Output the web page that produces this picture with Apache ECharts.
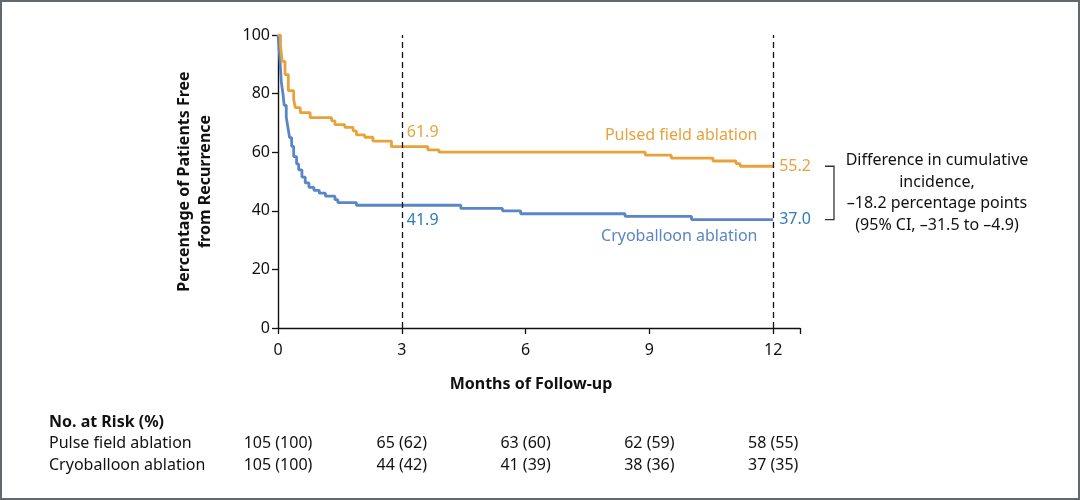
<!DOCTYPE html>
<html>
<head>
<meta charset="utf-8">
<script src="https://cdn.jsdelivr.net/npm/echarts@6/dist/echarts.min.js"></script>
<style>
  html, body { margin: 0; padding: 0; background: #fff; }
  #chart { width: 1080px; height: 500px; box-sizing: border-box; border: 2px solid #62686b; }
</style>
</head>
<body>
<div id="chart"></div>
<script>
  // 生存曲线数据 [月, %]
  var pulsedCurve = [
    [0, 100], [0.06, 96.5], [0.1, 91], [0.17, 86.5], [0.25, 81], [0.38, 78],
    [0.42, 75.2], [0.54, 73.5], [0.78, 71.8], [1.3, 70.7], [1.38, 69.4],
    [1.62, 68.5], [1.82, 67.3], [1.9, 65.9], [2.1, 65.1], [2.3, 63.8],
    [2.75, 61.9], [3.63, 60.8], [3.9, 60.0], [8.9, 59.0], [9.53, 58.0],
    [10.54, 57.0], [11.1, 56.1], [11.2, 55.2], [12, 55.2]
  ];
  var cryoCurve = [
    [0, 100], [0.02, 96.5], [0.05, 91], [0.08, 84], [0.12, 80], [0.15, 76],
    [0.2, 72], [0.24, 68.5], [0.28, 65], [0.33, 62], [0.38, 58.5], [0.45, 56],
    [0.5, 54], [0.58, 51.5], [0.66, 49.5], [0.75, 48], [0.87, 47], [1.0, 46],
    [1.15, 45], [1.38, 43.8], [1.45, 42.8], [1.9, 41.9], [4.43, 40.8],
    [5.44, 40.0], [5.88, 39.0], [8.41, 38.1], [10.02, 37.0], [12, 37.0]
  ];

  var landmarkMonths = [3, 12];
  var pulsedLandmarks = [61.9, 55.2];
  var cryoLandmarks = [41.9, 37.0];

  var riskMonths = [0, 3, 6, 9, 12];
  var riskPulsed = ['105 (100)', '65 (62)', '63 (60)', '62 (59)', '58 (55)'];
  var riskCryo = ['105 (100)', '44 (42)', '41 (39)', '38 (36)', '37 (35)'];
  var riskRowNames = ['Pulse field ablation', 'Cryoballoon ablation'];

  var diffLines = [
    'Difference in cumulative',
    'incidence,',
    '\u201318.2 percentage points',
    '(95% CI, \u201331.5 to \u20134.9)'
  ];

  var FONT = '"Noto Sans", "Open Sans", sans-serif';
  var FS = 16;
  var ORANGE = '#e9a23b';
  var BLUE = '#5a86c5';
  var BLUE_TXT = '#2d7bbb';

  var chart = echarts.init(document.getElementById('chart'), null, { renderer: 'canvas' });

  function lmLabel(val, color, offset) {
    return {
      show: true, formatter: val.toFixed(1), color: color, fontSize: FS,
      fontFamily: FONT, position: 'right', offset: offset
    };
  }

  var option = {
    animation: false,
    textStyle: { fontFamily: FONT },
    grid: { left: 276, right: 278, top: 33, bottom: 170, containLabel: false },
    xAxis: {
      type: 'value', min: 0, max: 12.65, interval: 3,
      name: 'Months of Follow-up', nameLocation: 'middle', nameGap: 48,
      nameTextStyle: { fontSize: FS, fontWeight: 'bold', color: '#111', fontFamily: FONT, padding: [0, 16, 0, 0] },
      axisLine: { lineStyle: { color: '#111', width: 1.4 } },
      axisTick: { show: true, length: 6, inside: false, lineStyle: { color: '#111', width: 1.3 } },
      axisLabel: {
        color: '#111', fontSize: FS, margin: 14, fontFamily: FONT,
        formatter: function(v) { return v % 3 === 0 ? String(v) : ''; }
      },
      splitLine: { show: false }
    },
    yAxis: {
      type: 'value', min: 0, max: 100, interval: 20,
      name: 'Percentage of Patients Free\nfrom Recurrence', nameLocation: 'middle', nameGap: 62,
      nameTextStyle: { fontSize: FS, fontWeight: 'bold', color: '#111', fontFamily: FONT, lineHeight: 21 },
      axisLine: { show: true, lineStyle: { color: '#111', width: 1.4 } },
      axisTick: { show: true, length: 6, lineStyle: { color: '#111', width: 1.3 } },
      axisLabel: { color: '#111', fontSize: FS, margin: 8, fontFamily: FONT },
      splitLine: { show: false }
    },
    series: [
      {
        name: 'Pulsed field ablation', type: 'line', step: 'end', data: pulsedCurve,
        showSymbol: false, symbol: 'none', z: 3,
        lineStyle: { color: ORANGE, width: 2.8 },
        markLine: {
          silent: true, symbol: 'none', animation: false,
          lineStyle: { color: '#111', type: [6, 4], width: 1.3 },
          label: { show: false },
          data: landmarkMonths.map(function(m) { return { xAxis: m }; })
        },
        markPoint: {
          symbol: 'circle', symbolSize: 0, silent: true,
          data: [
            { coord: [landmarkMonths[0], pulsedLandmarks[0]], label: lmLabel(pulsedLandmarks[0], ORANGE, [0, -14]) },
            { coord: [landmarkMonths[1], pulsedLandmarks[1]], label: lmLabel(pulsedLandmarks[1], ORANGE, [1, 0]) },
            { coord: [11.74, 65.7], label: { show: true, formatter: 'Pulsed field ablation', position: 'left',
              color: ORANGE, fontSize: FS, fontFamily: FONT } }
          ]
        }
      },
      {
        name: 'Cryoballoon ablation', type: 'line', step: 'end', data: cryoCurve,
        showSymbol: false, symbol: 'none', z: 2,
        lineStyle: { color: BLUE, width: 2.8 },
        markPoint: {
          symbol: 'circle', symbolSize: 0, silent: true,
          data: [
            { coord: [landmarkMonths[0], cryoLandmarks[0]], label: lmLabel(cryoLandmarks[0], BLUE_TXT, [0, 15]) },
            { coord: [landmarkMonths[1], cryoLandmarks[1]], label: lmLabel(cryoLandmarks[1], BLUE_TXT, [1, 0]) },
            { coord: [11.74, 31.3], label: { show: true, formatter: 'Cryoballoon ablation', position: 'left',
              color: BLUE, fontSize: FS, fontFamily: FONT } }
          ]
        }
      }
    ]
  };

  chart.setOption(option);

  // 标注括号与风险表
  var graphics = [];
  var yTop = chart.convertToPixel({ gridIndex: 0 }, [12, pulsedLandmarks[1]])[1];
  var yBot = chart.convertToPixel({ gridIndex: 0 }, [12, cryoLandmarks[1]])[1];
  var bx = 832;
  graphics.push({
    type: 'polyline', silent: true,
    shape: { points: [[bx - 9, yTop], [bx, yTop], [bx, yBot], [bx - 9, yBot]] },
    style: { stroke: '#333', lineWidth: 1.3, fill: null }
  });
  var midY = (yTop + yBot) / 2;
  diffLines.forEach(function(t, i) {
    graphics.push({
      type: 'text', silent: true,
      style: { text: t, x: 935, y: midY + (i - 1.5) * 21.5, textAlign: 'center', textVerticalAlign: 'middle',
        fill: '#111', font: FS + 'px ' + FONT }
    });
  });

  graphics.push({
    type: 'text', silent: true,
    style: { text: 'No. at Risk (%)', x: 47, y: 420, textVerticalAlign: 'middle', fill: '#111', font: 'bold ' + FS + 'px ' + FONT }
  });
  [riskPulsed, riskCryo].forEach(function(row, r) {
    var y = 441 + r * 22;
    graphics.push({
      type: 'text', silent: true,
      style: { text: riskRowNames[r], x: 47, y: y, textVerticalAlign: 'middle', fill: '#111', font: FS + 'px ' + FONT }
    });
    row.forEach(function(txt, i) {
      var x = chart.convertToPixel({ gridIndex: 0 }, [riskMonths[i], 0])[0];
      graphics.push({
        type: 'text', silent: true,
        style: { text: txt, x: x, y: y, textAlign: 'center', textVerticalAlign: 'middle', fill: '#111', font: FS + 'px ' + FONT }
      });
    });
  });

  chart.setOption({ graphic: graphics });
</script>
</body>
</html>
